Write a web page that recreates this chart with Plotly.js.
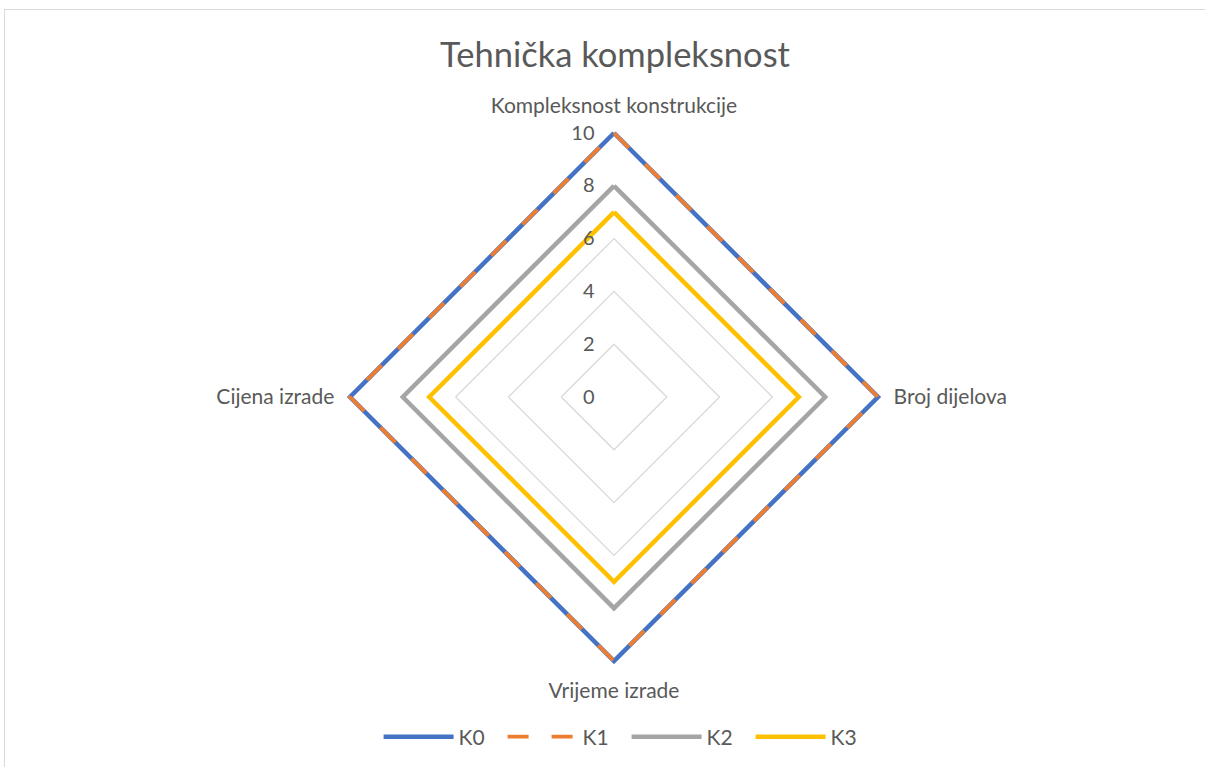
<!DOCTYPE html>
<html>
<head>
<meta charset="utf-8">
<script src="https://cdn.plot.ly/plotly-3.0.1.min.js"></script>
<style>
  html, body { margin: 0; padding: 0; background: #fff; }
  #frame { position: absolute; left: 4px; top: 9px; width: 1210px; height: 770px; border: 1px solid #d9d9d9; box-sizing: border-box; }
  #chart { position: absolute; left: 0; top: 0; width: 1205px; height: 767px; }
</style>
</head>
<body>
<div id="frame"></div>
<div id="chart"></div>
<script>
const categories = ["Kompleksnost konstrukcije", "Broj dijelova", "Vrijeme izrade", "Cijena izrade"];
const seriesNames = ["K0", "K1", "K2", "K3"];
const K0 = [10, 10, 10, 10];
const K1 = [10, 10, 10, 10];
const K2 = [8, 8, 8, 8];
const K3 = [7, 7, 7, 7];
const radialTicks = [0, 2, 4, 6, 8, 10];

const colors = ["#4472C4", "#ED7D31", "#A5A5A5", "#FFC000"];
const dashes = ["solid", "21px,23px", "solid", "solid"];
const widths = [4.5, 3.8, 4.5, 4.5];
const values = [K0, K1, K2, K3];

const traces = values.map((v, i) => ({
  type: "scatterpolar",
  mode: "lines",
  name: seriesNames[i],
  r: v.concat([v[0]]),
  theta: categories.concat([categories[0]]),
  cliponaxis: false,
  line: { color: colors[i], width: widths[i], dash: dashes[i] },
  hoverinfo: "name+r+theta"
}));

const W = 1205, H = 767, cx = 614, cy = 397, R10 = 264;
const rMax = 10.3;
const R = R10 * rMax / 10;

const layout = {
  width: W, height: H,
  margin: { l: 0, r: 0, t: 0, b: 0 },
  paper_bgcolor: "rgba(0,0,0,0)",
  plot_bgcolor: "rgba(0,0,0,0)",
  font: { family: "Lato, 'Open Sans', sans-serif", color: "#595959", size: 21 },
  title: { text: "Tehnička kompleksnost", font: { size: 34.5, color: "#595959", family: "Lato, sans-serif" }, x: 615 / W, xanchor: "center", y: 1 - 55 / H, yanchor: "middle" },
  showlegend: true,
  legend: {
    orientation: "h", x: 0.52, xanchor: "center", y: 1 - 737 / H, yanchor: "middle",
    font: { size: 21, color: "#595959" }, itemwidth: 70, traceorder: "normal",
    entrywidth: 39, entrywidthmode: "pixels"
  },
  polar: {
    domain: { x: [(cx - R) / W, (cx + R) / W], y: [(H - cy - R) / H, (H - cy + R) / H] },
    bgcolor: "rgba(0,0,0,0)",
    gridshape: "linear",
    angularaxis: {
      rotation: 90, direction: "clockwise",
      showgrid: false, showline: false,
      ticks: "outside", ticklen: 3, tickcolor: "rgba(0,0,0,0)",
      tickfont: { size: 21, color: "#595959" }
    },
    radialaxis: {
      range: [0, rMax], tickvals: radialTicks, ticktext: radialTicks.map(String),
      angle: 90, side: "counterclockwise",
      showline: false, showgrid: true, gridcolor: "#d9d9d9", gridwidth: 1.3,
      ticks: "outside", ticklen: 12, tickcolor: "rgba(0,0,0,0)",
      tickfont: { size: 20, color: "#595959" }, tickangle: 90
    }
  }
};

Plotly.newPlot("chart", traces, layout, { displayModeBar: false, staticPlot: true });
</script>
</body>
</html>
